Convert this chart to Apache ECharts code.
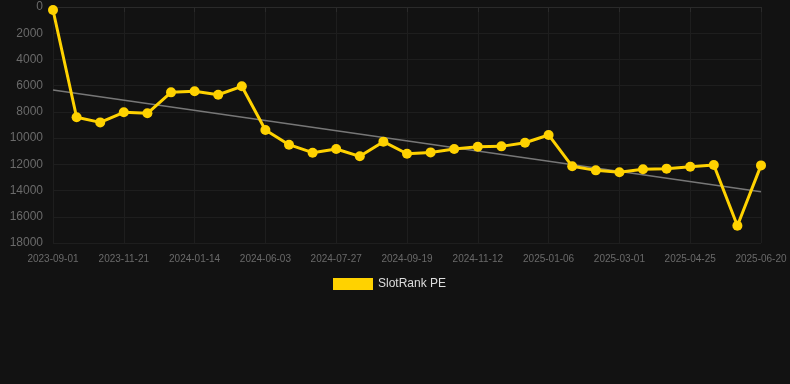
<!DOCTYPE html>
<html>
<head>
<meta charset="utf-8">
<script src="https://cdn.jsdelivr.net/npm/echarts@6/dist/echarts.min.js"></script>
<style>
html,body{margin:0;padding:0;background:#121212;}
#c{width:790px;height:384px;}
</style>
</head>
<body>
<div id="c"></div>
<script>
var categories = ['2023-09-01','2023-09-28','2023-10-25','2023-11-21','2023-12-09','2023-12-27','2024-01-14','2024-03-01','2024-04-15','2024-06-03','2024-06-21','2024-07-09','2024-07-27','2024-08-14','2024-09-01','2024-09-19','2024-10-07','2024-10-25','2024-11-12','2024-11-30','2024-12-18','2025-01-06','2025-01-24','2025-02-11','2025-03-01','2025-03-19','2025-04-06','2025-04-25','2025-05-13','2025-06-01','2025-06-20'];
var slotRankPE = [230,8410,8800,8030,8110,6510,6430,6690,6050,9380,10500,11110,10830,11390,10270,11190,11090,10830,10660,10630,10350,9760,12150,12460,12610,12380,12330,12180,12050,16680,12080];
var trendStart = 6330;
var trendEnd = 14090;
var yTicks = {min:0, max:18000, interval:2000};

var trend = categories.map(function(_, i){
  if (i === 0) return trendStart;
  if (i === categories.length - 1) return trendEnd;
  return null;
});

var chart = echarts.init(document.getElementById('c'));
chart.setOption({
  backgroundColor: '#121212',
  animation: false,
  grid: {left: 53, right: 29, top: 7, bottom: 141, containLabel: false},
  legend: {
    data: ['SlotRank PE'],
    top: 273,
    left: 328,
    icon: 'rect',
    itemWidth: 40,
    itemHeight: 12,
    itemGap: 10,
    textStyle: {color: '#dddddd', fontSize: 12, fontFamily: 'Liberation Sans, Arial, sans-serif'}
  },
  xAxis: {
    type: 'category',
    data: categories,
    boundaryGap: false,
    axisLine: {show: true, lineStyle: {color: '#2a2a2a'}},
    axisTick: {show: true, interval: 2, lineStyle: {color: '#2a2a2a'}},
    axisLabel: {interval: 2, color: '#6a6a6a', fontSize: 10, margin: 11, fontFamily: 'Liberation Sans, Arial, sans-serif'},
    splitLine: {show: true, interval: 2, lineStyle: {color: '#1e1e1e'}}
  },
  yAxis: {
    type: 'value',
    inverse: true,
    min: yTicks.min, max: yTicks.max, interval: yTicks.interval,
    axisLine: {show: false},
    axisTick: {show: false},
    axisLabel: {color: '#6a6a6a', fontSize: 12, margin: 10, fontFamily: 'Liberation Sans, Arial, sans-serif',
      formatter: function(v){ return String(v); }},
    splitLine: {show: true, lineStyle: {color: '#1e1e1e'}}
  },
  series: [
    {
      name: 'SlotRank PE',
      type: 'line',
      data: slotRankPE,
      color: '#FFD200',
      lineStyle: {width: 3, color: '#FFD200'},
      itemStyle: {color: '#FFD200'},
      symbol: 'circle',
      symbolSize: 10,
      z: 3
    },
    {
      name: 'Trend',
      type: 'line',
      data: trend,
      connectNulls: true,
      symbol: 'none',
      silent: true,
      lineStyle: {width: 1.5, color: '#777777'},
      z: 2
    }
  ]
});
</script>
</body>
</html>
